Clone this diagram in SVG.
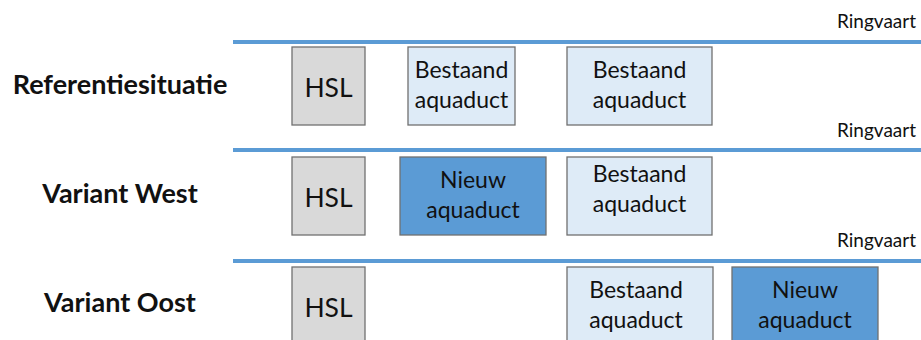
<svg xmlns="http://www.w3.org/2000/svg" width="921" height="340" viewBox="0 0 921 340">
<style>
.water{stroke:#5b9bd5;stroke-width:4;fill:none}
.rv{font-family:Lato,"Open Sans",sans-serif;font-size:19px;fill:#111;text-anchor:end}
.lbl{font-family:Lato,"Open Sans",sans-serif;font-size:27px;font-weight:bold;fill:#111;text-anchor:middle}
.box{stroke:#707070;stroke-width:1.3}
.hsl{fill:#d9d9d9}
.best{fill:#deebf7}
.nieuw{fill:#5b9bd5}
.t{font-family:Lato,"Open Sans",sans-serif;font-size:23px;fill:#111;text-anchor:middle}
.th{font-family:Lato,"Open Sans",sans-serif;font-size:26.5px;fill:#111;text-anchor:middle}
</style>
<g id="waterways">
<line class="water" x1="233" y1="42" x2="921" y2="42"/>
<line class="water" x1="233" y1="150" x2="921" y2="150"/>
<line class="water" x1="233" y1="261" x2="921" y2="261"/>
<text class="rv" x="916" y="28">Ringvaart</text>
<text class="rv" x="916" y="137">Ringvaart</text>
<text class="rv" x="916" y="247">Ringvaart</text>
</g>
<g id="labels">
<text class="lbl" x="120" y="94">Referentiesituatie</text>
<text class="lbl" x="120" y="203">Variant West</text>
<text class="lbl" x="120" y="312">Variant Oost</text>
</g>
<g id="ref-hsl"><rect class="box hsl" x="292" y="47" width="73" height="78"/><text class="th" x="328.5" y="97">HSL</text></g>
<g id="ref-bestaand1"><rect class="box best" x="408" y="47" width="107" height="78"/><text class="t" x="461.5" y="78">Bestaand</text><text class="t" x="461.5" y="108">aquaduct</text></g>
<g id="ref-bestaand2"><rect class="box best" x="567" y="47" width="145" height="78"/><text class="t" x="639.5" y="78">Bestaand</text><text class="t" x="639.5" y="108">aquaduct</text></g>
<g id="west-hsl"><rect class="box hsl" x="292" y="157" width="73" height="78"/><text class="th" x="328.5" y="207">HSL</text></g>
<g id="west-nieuw"><rect class="box nieuw" x="400" y="157" width="146" height="78"/><text class="t" x="473" y="188">Nieuw</text><text class="t" x="473" y="218">aquaduct</text></g>
<g id="west-bestaand"><rect class="box best" x="567" y="157" width="145" height="78"/><text class="t" x="639.5" y="182">Bestaand</text><text class="t" x="639.5" y="212">aquaduct</text></g>
<g id="oost-hsl"><rect class="box hsl" x="292" y="267" width="73" height="80"/><text class="th" x="328.5" y="317">HSL</text></g>
<g id="oost-bestaand"><rect class="box best" x="567" y="267" width="146" height="80"/><text class="t" x="636" y="298">Bestaand</text><text class="t" x="636" y="328">aquaduct</text></g>
<g id="oost-nieuw"><rect class="box nieuw" x="732" y="267" width="146" height="80"/><text class="t" x="805" y="298">Nieuw</text><text class="t" x="805" y="328">aquaduct</text></g>
</svg>
